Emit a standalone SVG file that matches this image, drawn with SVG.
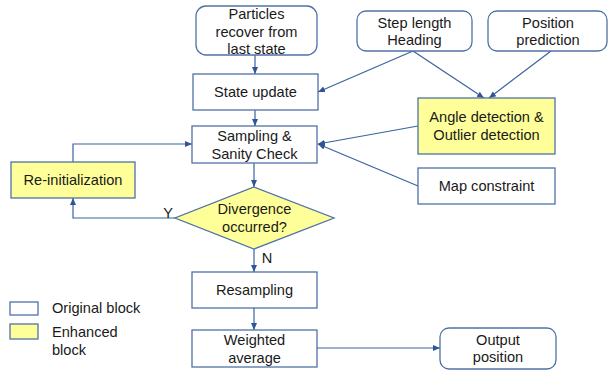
<svg xmlns="http://www.w3.org/2000/svg" width="609" height="371" viewBox="0 0 609 371">
<defs>
<marker id="ah" markerUnits="userSpaceOnUse" markerWidth="8" markerHeight="8" viewBox="0 0 8 8" refX="7" refY="4" orient="auto">
<path d="M0,1 L7,4 L0,7 Z" fill="#2f5597"/>
</marker>
<style>
.box{fill:#ffffff;stroke:#4f72a6;stroke-width:1.3}
.yel{fill:#ffff99;stroke:#4f72a6;stroke-width:1.3}
.t{font-family:"Liberation Sans",Arial,sans-serif;font-size:14.6px;fill:#1a1a1a;text-anchor:middle}
.tl{font-family:"Liberation Sans",Arial,sans-serif;font-size:14.6px;fill:#1a1a1a;text-anchor:start}
.c{fill:none;stroke:#3a62a0;stroke-width:1.2;marker-end:url(#ah)}
.cn{fill:none;stroke:#3a62a0;stroke-width:1.2}
</style>
</defs>
<rect width="609" height="371" fill="#ffffff"/>

<g id="connectors">
<path class="c" d="M255,55 L255,74"/>
<path class="c" d="M255,110 L255,126"/>
<path class="c" d="M413,51 L318,92"/>
<path class="c" d="M413,51 L484,98"/>
<path class="c" d="M551,51 L489,98"/>
<path class="c" d="M418,126 L318,144"/>
<path class="c" d="M418,186 L318,144"/>
<path class="c" d="M254,163 L254,187"/>
<path class="c" d="M73,162 L73,144 L192,144"/>
<path class="c" d="M175,218 L73,218 L73,198"/>
<path class="c" d="M254,249 L254,272"/>
<path class="c" d="M254,308 L254,330"/>
<path class="c" d="M317,348 L440,348"/>
</g>

<g id="particles">
<rect class="box" x="196" y="6" width="121" height="49" rx="10"/>
<text class="t" x="256.5" y="19">Particles</text>
<text class="t" x="256.5" y="36.5">recover from</text>
<text class="t" x="256.5" y="54">last state</text>
</g>

<g id="step-length">
<rect class="box" x="357" y="11" width="115" height="40" rx="9"/>
<text class="t" x="414.5" y="27.5">Step length</text>
<text class="t" x="414.5" y="45">Heading</text>
</g>

<g id="position-prediction">
<rect class="box" x="488" y="11" width="119" height="40" rx="9"/>
<text class="t" x="548" y="27.5">Position</text>
<text class="t" x="548" y="45">prediction</text>
</g>

<g id="state-update">
<rect class="box" x="193" y="74" width="125" height="36"/>
<text class="t" x="255.5" y="97">State update</text>
</g>

<g id="sampling">
<rect class="box" x="192" y="126" width="125" height="37"/>
<text class="t" x="254.5" y="141">Sampling &amp;</text>
<text class="t" x="254.5" y="158.5">Sanity Check</text>
</g>

<g id="angle-detection">
<rect class="yel" x="418" y="98" width="137" height="56"/>
<text class="t" x="486.5" y="122">Angle detection &amp;</text>
<text class="t" x="486.5" y="139.5">Outlier detection</text>
</g>

<g id="map-constraint">
<rect class="box" x="418" y="168" width="137" height="36"/>
<text class="t" x="486.5" y="191">Map constraint</text>
</g>

<g id="re-initialization">
<rect class="yel" x="11" y="162" width="124" height="36"/>
<text class="t" x="73" y="185">Re-initialization</text>
</g>

<g id="divergence">
<path class="yel" d="M254,187 L334,218 L254,249 L175,218 Z"/>
<text class="t" x="254.5" y="214">Divergence</text>
<text class="t" x="254.5" y="231.5">occurred?</text>
<text class="t" x="168" y="218">Y</text>
<text class="t" x="267" y="263">N</text>
</g>

<g id="resampling">
<rect class="box" x="192" y="272" width="125" height="36"/>
<text class="t" x="254.5" y="295">Resampling</text>
</g>

<g id="weighted-average">
<rect class="box" x="192" y="330" width="125" height="37"/>
<text class="t" x="254.5" y="345">Weighted</text>
<text class="t" x="254.5" y="362.5">average</text>
</g>

<g id="output-position">
<rect class="box" x="440" y="328" width="116" height="41" rx="9"/>
<text class="t" x="498" y="344.5">Output</text>
<text class="t" x="498" y="362">position</text>
</g>

<g id="legend">
<rect class="box" x="10" y="302" width="28" height="13"/>
<text class="tl" x="52" y="313">Original block</text>
<rect class="yel" x="10" y="324" width="28" height="15"/>
<text class="tl" x="52" y="337">Enhanced</text>
<text class="tl" x="52" y="355">block</text>
</g>
</svg>
